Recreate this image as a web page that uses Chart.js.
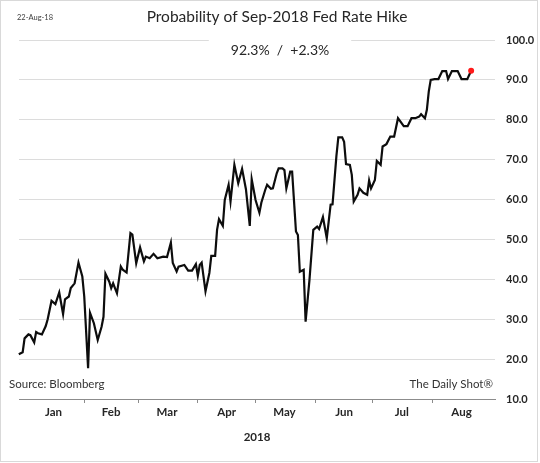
<!DOCTYPE html>
<html>
<head>
<meta charset="utf-8">
<script src="https://cdn.jsdelivr.net/npm/chart.js@4.4.1/dist/chart.umd.min.js"></script>
<style>
  html, body { margin: 0; padding: 0; background: #fff; }
  #wrap { width: 540px; height: 463px; position: relative; }
</style>
</head>
<body>
<div id="wrap"><canvas id="c" width="540" height="463"></canvas></div>
<script>
// ---- data ----
const dates = [
 '2017-12-29','2017-12-31','2018-01-01','2018-01-03','2018-01-04','2018-01-06','2018-01-07','2018-01-08',
 '2018-01-10','2018-01-12','2018-01-13','2018-01-15','2018-01-17','2018-01-19','2018-01-21','2018-01-22',
 '2018-01-24','2018-01-25','2018-01-27','2018-01-29','2018-01-31','2018-02-01','2018-02-03','2018-02-04',
 '2018-02-06','2018-02-08','2018-02-10','2018-02-11','2018-02-12','2018-02-14','2018-02-15','2018-02-16',
 '2018-02-18','2018-02-20','2018-02-21','2018-02-23','2018-02-25','2018-02-26','2018-02-28','2018-03-02',
 '2018-03-04','2018-03-05','2018-03-07','2018-03-09','2018-03-11','2018-03-14','2018-03-16','2018-03-18',
 '2018-03-19','2018-03-21','2018-03-22','2018-03-25','2018-03-27','2018-03-29','2018-03-31','2018-04-01',
 '2018-04-02','2018-04-03','2018-04-05','2018-04-07','2018-04-08','2018-04-10','2018-04-11','2018-04-12',
 '2018-04-14','2018-04-15','2018-04-17','2018-04-18','2018-04-20','2018-04-22','2018-04-24','2018-04-26',
 '2018-04-28','2018-04-29','2018-05-01','2018-05-03','2018-05-04','2018-05-06','2018-05-07','2018-05-09',
 '2018-05-10','2018-05-12','2018-05-13','2018-05-15','2018-05-16','2018-05-17','2018-05-19','2018-05-20',
 '2018-05-22','2018-05-23','2018-05-24','2018-05-26','2018-05-27','2018-05-29','2018-05-31','2018-06-02',
 '2018-06-03','2018-06-05','2018-06-07','2018-06-09','2018-06-10','2018-06-12','2018-06-13','2018-06-15',
 '2018-06-16','2018-06-17','2018-06-19','2018-06-20','2018-06-21','2018-06-23','2018-06-24','2018-06-26',
 '2018-06-28','2018-06-29','2018-06-30','2018-07-02','2018-07-03','2018-07-05','2018-07-06','2018-07-08',
 '2018-07-10','2018-07-12','2018-07-14','2018-07-17','2018-07-19','2018-07-21','2018-07-23','2018-07-25',
 '2018-07-26','2018-07-28','2018-07-29','2018-07-30','2018-07-31','2018-08-02','2018-08-04','2018-08-06',
 '2018-08-08','2018-08-09','2018-08-11','2018-08-14','2018-08-16','2018-08-19','2018-08-21'
];
const probability = [
 21.2,21.7,25.2,26.2,26.0,24.2,26.8,26.5,
 26.2,28.3,30.0,34.6,33.8,36.7,31.3,35.0,
 35.7,37.8,39.0,44.2,40.7,35.7,17.7,31.6,
 29.0,24.8,28.1,30.6,41.4,39.4,37.8,39.0,
 36.5,43.2,42.4,41.7,51.6,51.2,44.0,48.0,
 44.5,45.7,45.3,46.4,45.3,45.7,45.6,49.2,
 44.1,42.0,43.2,43.6,42.2,42.2,43.8,40.9,
 43.6,44.2,37.0,41.6,45.9,45.9,52.4,55.1,
 53.4,59.9,63.7,59.5,68.7,64.1,67.7,62.6,
 53.4,65.1,59.9,56.7,59.2,62.4,63.7,62.7,
 62.8,66.6,67.8,67.8,67.4,62.8,67.0,67.0,
 52.0,51.1,41.9,42.4,29.4,39.8,52.4,53.2,
 52.6,55.6,50.3,58.7,58.8,70.9,75.6,75.6,
 74.5,68.9,68.7,66.2,59.5,61.2,62.8,61.7,
 61.2,64.8,62.8,64.9,69.7,68.7,73.3,73.9,
 75.8,75.8,80.4,78.4,78.4,80.4,80.4,80.8,
 81.4,80.4,82.5,87.1,90.0,90.2,90.2,92.2,
 92.2,90.2,92.2,92.2,90.2,90.2,92.3
];
const monthLabels = ['Jan','Feb','Mar','Apr','May','Jun','Jul','Aug'];
const monthStarts = ['2018-02-01','2018-03-01','2018-04-01','2018-05-01','2018-06-01','2018-07-01','2018-08-01'];
const monthMids = ['2018-01-16','2018-02-15','2018-03-16','2018-04-16','2018-05-16','2018-06-16','2018-07-16','2018-08-16'];
const axisStart = '2017-12-29';
const axisEnd = '2018-09-02';
const yTicks = [10, 100, 10]; // min, max, step
const titleText = 'Probability of Sep-2018 Fed Rate Hike';
const subtitleText = '92.3%  /  +2.3%';
const dateText = '22-Aug-18';
const sourceText = 'Source: Bloomberg';
const brandText = 'The Daily Shot\u00AE';
const yearText = '2018';

// ---- helpers ----
const base = Date.UTC(2018, 0, 1);
const dayNum = s => (Date.parse(s + 'T00:00:00Z') - base) / 86400000;
const points = dates.map((d, i) => ({ x: dayNum(d), y: probability[i] }));
const lastIdx = points.length - 1;

const FONT = 'Lato, "Open Sans", "DejaVu Sans", sans-serif';
Chart.defaults.font.family = FONT;

const textPlugin = {
  id: 'texts',
  beforeDraw(chart) {
    const ctx = chart.ctx;
    ctx.save();
    ctx.fillStyle = '#fff';
    ctx.fillRect(0, 0, chart.width, chart.height);
    ctx.strokeStyle = '#d9d9d9';
    ctx.lineWidth = 1;
    ctx.strokeRect(0.5, 0.5, chart.width - 3, chart.height - 2);
    ctx.restore();
  },
  beforeDatasetsDraw(chart) {
    const ctx = chart.ctx;
    ctx.save();
    ctx.font = '14px ' + FONT;
    const w = ctx.measureText(subtitleText).width;
    const cx = 280, cy = 50;
    ctx.fillStyle = '#fff';
    ctx.fillRect(cx - w / 2 - 22, cy - 14, w + 44, 26);
    ctx.fillStyle = '#262626';
    ctx.textAlign = 'center';
    ctx.textBaseline = 'middle';
    ctx.fillText(subtitleText, cx, cy);
    ctx.restore();
  },
  afterDraw(chart) {
    const ctx = chart.ctx;
    ctx.save();
    ctx.textBaseline = 'middle';
    ctx.fillStyle = '#262626';
    ctx.font = '15.5px ' + FONT;
    ctx.textAlign = 'center';
    ctx.fillText(titleText, 277, 17);
    ctx.font = '7.5px ' + FONT;
    ctx.textAlign = 'left';
    ctx.fillStyle = '#404040';
    ctx.fillText(dateText, 17, 18);
    ctx.font = '11.5px ' + FONT;
    ctx.fillStyle = '#333';
    ctx.fillText(sourceText, 9, 384);
    ctx.textAlign = 'right';
    ctx.fillText(brandText, 493, 384);
    ctx.restore();
  }
};

new Chart(document.getElementById('c'), {
  type: 'line',
  data: {
    datasets: [{
      data: points,
      borderColor: '#0d0d0d',
      borderWidth: 2.2,
      tension: 0,
      pointRadius: ctx => ctx.dataIndex === lastIdx ? 3 : 0,
      pointBackgroundColor: '#ff1a1a',
      pointBorderWidth: 0,
      clip: false
    }]
  },
  options: {
    responsive: false,
    animation: false,
    events: [],
    layout: { padding: { left: 19, top: 40, right: 0, bottom: 0 } },
    plugins: { legend: { display: false }, tooltip: { enabled: false }, title: { display: false } },
    scales: {
      x: {
        type: 'linear', position: 'bottom', weight: 0,
        min: dayNum(axisStart) + 0.1, max: dayNum(axisEnd) + 0.4,
        afterBuildTicks: s => { s.ticks = monthStarts.map(d => ({ value: dayNum(d) })); },
        afterFit: s => { s.height = 4; },
        ticks: { display: false, autoSkip: false },
        grid: { drawOnChartArea: false, drawTicks: true, tickLength: 4, color: '#8c8c8c', lineWidth: 1 },
        border: { display: true, color: '#8c8c8c', width: 1 }
      },
      x2: {
        type: 'linear', position: 'bottom', weight: 1,
        min: dayNum(axisStart) + 0.1, max: dayNum(axisEnd) + 0.4,
        afterBuildTicks: s => { s.ticks = monthMids.map(d => ({ value: dayNum(d) })); },
        afterFit: s => { s.height = 60; },
        ticks: {
          autoSkip: false, maxRotation: 0, padding: 2,
          font: { size: 11.5, weight: 'bold' }, color: '#262626',
          callback: (v, i) => monthLabels[i]
        },
        grid: { display: false, drawTicks: false },
        border: { display: false },
        title: { display: true, text: yearText, font: { size: 11.5, weight: 'bold' }, color: '#262626', padding: { top: 8, bottom: 19 } }
      },
      y: {
        position: 'right',
        min: yTicks[0], max: yTicks[1],
        afterFit: s => { s.width = 45; },
        ticks: {
          stepSize: yTicks[2], padding: 11,
          font: { size: 11, weight: 'bold' }, color: '#262626',
          callback: v => Number(v).toFixed(1)
        },
        grid: { color: '#dcdcdc', lineWidth: 1, drawTicks: false },
        border: { display: false }
      }
    }
  },
  plugins: [textPlugin]
});
</script>
</body>
</html>
